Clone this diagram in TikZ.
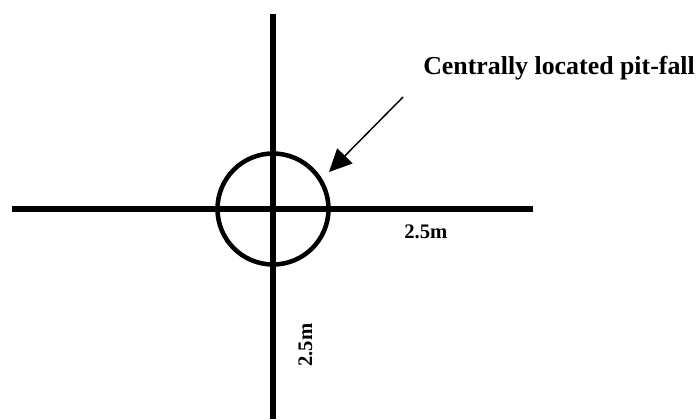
\documentclass[tikz,border=0pt]{standalone}
\usepackage{fontspec}
\setmainfont{Liberation Serif}
\usetikzlibrary{arrows.meta}
\tikzset{
    axis line/.style={line width=3.8pt, black},
    pit ring/.style={circle, draw, line width=3.4pt, minimum size=111*0.75pt, inner sep=0pt},
    pointer/.style={line width=1.1pt, -{Triangle[length=17pt, width=16pt]}},
    big label/.style={font=\fontsize{19.4pt}{23pt}\selectfont\bfseries, inner sep=0pt},
    small label/.style={font=\fontsize{15.5pt}{18pt}\selectfont\bfseries, inner sep=0pt}
}
\begin{document}
\begin{tikzpicture}[x=0.75pt, y=-0.75pt]
    \useasboundingbox (0,0) rectangle (697,419);
    \coordinate (W) at (12,209);
    \coordinate (E) at (533,209);
    \coordinate (N) at (273,14);
    \coordinate (S) at (273,419);
    \coordinate (A1) at (403,97);
    \coordinate (A2) at (329,172);

    \draw [axis line] (W) -- (E);
    \draw [axis line] (N) -- (S);
    \node [pit ring] (pit) at (273,209) {};

    \node [big label, anchor=base west] (title) at (423,74) {Centrally located pit-fall};
    \draw [pointer] (A1) -- (A2);

    \node [small label, anchor=base west] (lenx) at (404,238) {2.5m};
    \node [small label, anchor=base west, rotate=90] (leny) at (312,367) {2.5m};
\end{tikzpicture}
\end{document}
